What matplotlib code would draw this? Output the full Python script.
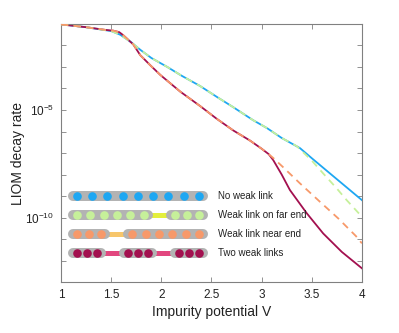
import matplotlib
matplotlib.use("Agg")
import matplotlib.pyplot as plt
import numpy as np

# impurity potential V and log10 of LIOM decay rate
v_blue = [1.0, 1.25, 1.5, 1.59, 1.7, 1.79, 1.9, 2.06, 2.2, 2.385, 2.55, 2.714,
          2.914, 3.053, 3.2, 3.382, 3.5, 3.651, 3.8, 4.0]
lg_blue = [-1.02, -1.15, -1.33, -1.5, -1.85, -2.2, -2.58, -3.0, -3.4, -3.88, -4.38, -4.86,
           -5.47, -5.84, -6.3, -6.77, -7.24, -7.83, -8.41, -9.19]

v_green = [1.0, 1.25, 1.5, 1.59, 1.7, 1.79, 1.9, 2.06, 2.2, 2.385, 2.55, 2.714,
           2.914, 3.053, 3.2, 3.35, 3.5, 3.614, 3.75, 3.85, 4.0]
lg_green = [-1.02, -1.15, -1.33, -1.5, -1.85, -2.2, -2.58, -3.0, -3.4, -3.88, -4.38, -4.86,
            -5.47, -5.84, -6.3, -6.68, -7.35, -7.95, -8.65, -9.2, -9.96]

v_red = [1.0, 1.25, 1.45, 1.52, 1.58, 1.62, 1.72, 1.79, 1.89, 1.99, 2.19, 2.385, 2.55,
         2.717, 2.884, 3.0, 3.07, 3.116, 3.2, 3.282, 3.45, 3.614, 3.8, 4.0]
lg_red = [-1.02, -1.15, -1.28, -1.31, -1.38, -1.52, -1.95, -2.45, -2.92, -3.37, -4.15, -4.81, -5.4,
          -5.95, -6.42, -6.8, -7.05, -7.33, -8.0, -8.72, -9.8, -10.74, -11.6, -12.36]

v_orange = [1.0, 1.25, 1.45, 1.52, 1.58, 1.62, 1.72, 1.79, 1.89, 1.99, 2.19, 2.385, 2.55,
            2.717, 2.884, 3.0, 3.07, 3.116, 3.21, 3.382, 3.58, 3.764, 3.94, 4.0]
lg_orange = [-1.02, -1.15, -1.28, -1.31, -1.38, -1.52, -1.95, -2.45, -2.92, -3.37, -4.15, -4.81, -5.4,
             -5.95, -6.42, -6.8, -7.05, -7.23, -7.64, -8.41, -9.26, -10.04, -10.86, -11.2]

labels = ["No weak link", "Weak link on far end", "Weak link near end", "Two weak links"]
chains = [[9], [6, 3], [3, 6], [3, 3, 3]]

c_blue = "#1ea7f2"
c_green = "#c6f09a"
c_orange = "#f7996a"
c_red = "#a3104f"
dot_colors = [c_blue, c_green, c_orange, c_red]
link_colors = [None, "#e4ef3c", "#f7c66b", "#e2477f"]


def draw_chain(ax, y, groups, dot_color, link_color, x0=0.023, x1=0.488):
    # everything in axes fraction; axes is about 301 px wide
    px = 1.0 / 301
    link_w = 13 * px
    r = 5 * px
    pad = 9 * px
    total = x1 - x0 - link_w * (len(groups) - 1)
    n_all = sum(groups)
    start = x0
    for k, n in enumerate(groups):
        w = total * n / n_all
        end = start + w
        ax.plot([start + r, end - r], [y, y], color="#b3b3b3", lw=7.2,
                solid_capstyle="round", transform=ax.transAxes, zorder=5)
        xs = np.linspace(start + pad, end - pad, n)
        ax.plot(xs, [y] * n, ls="none", marker="o", ms=6.2, mfc=dot_color,
                mec="none", transform=ax.transAxes, zorder=6)
        if k < len(groups) - 1:
            ax.plot([end - r, end + link_w + r], [y, y], color=link_color, lw=3.6,
                    solid_capstyle="butt", transform=ax.transAxes, zorder=4)
        start = end + link_w


def main():
    plt.rcParams['font.family'] = ['Liberation Sans', 'DejaVu Sans']
    plt.rcParams['mathtext.fontset'] = 'custom'
    plt.rcParams['mathtext.rm'] = 'Liberation Sans'
    plt.rcParams['mathtext.it'] = 'Liberation Sans'

    fig = plt.figure(figsize=(3.99, 3.33), dpi=100)
    ax = fig.add_axes([0.153, 0.153, 0.754, 0.775])

    ax.plot(v_blue, 10.0 ** np.array(lg_blue), color=c_blue, lw=1.3, zorder=2)
    ax.plot(v_red, 10.0 ** np.array(lg_red), color=c_red, lw=1.3, zorder=2)
    ax.plot(v_green, 10.0 ** np.array(lg_green), color=c_green, lw=1.3, ls=(0, (4, 3)), zorder=3)
    ax.plot(v_orange, 10.0 ** np.array(lg_orange), color=c_orange, lw=1.3, ls=(0, (4, 3)), zorder=3)

    ax.set_yscale("log")
    ax.set_xlim(1, 4)
    ax.set_ylim(1e-13, 1e-1)
    ax.set_xticks(np.arange(1, 4.01, 0.5))
    ax.set_xticklabels(["1", "1.5", "2", "2.5", "3", "3.5", "4"])
    decades = np.arange(-13, 0)
    ax.set_yticks(10.0 ** decades)
    ax.set_yticklabels([r"$10^{%d}$" % d if d in (-5, -10) else "" for d in decades])
    ax.minorticks_off()
    ax.tick_params(which="both", direction="in", length=3.5, width=0.6, color="#808080",
                   top=True, right=True, labelsize=8.5, labelcolor="#222222", pad=5)
    for s in ax.spines.values():
        s.set_color("#808080")
        s.set_linewidth(0.8)

    ax.set_xlabel("Impurity potential V", fontsize=10, color="#222222", labelpad=3)
    ax.set_ylabel("LIOM decay rate", fontsize=10, color="#222222")
    ax.yaxis.set_label_coords(-0.12, 0.5)

    rows_y = [0.333, 0.260, 0.186, 0.112]
    for y, g, dc, lc, lab in zip(rows_y, chains, dot_colors, link_colors, labels):
        draw_chain(ax, y, g, dc, lc)
        ax.text(0.522, y, lab, transform=ax.transAxes, fontsize=7, va="center",
                ha="left", color="#222222", zorder=7)

    fig.savefig("out.png", dpi=100)
    plt.close(fig)


if __name__ == "__main__":
    main()
